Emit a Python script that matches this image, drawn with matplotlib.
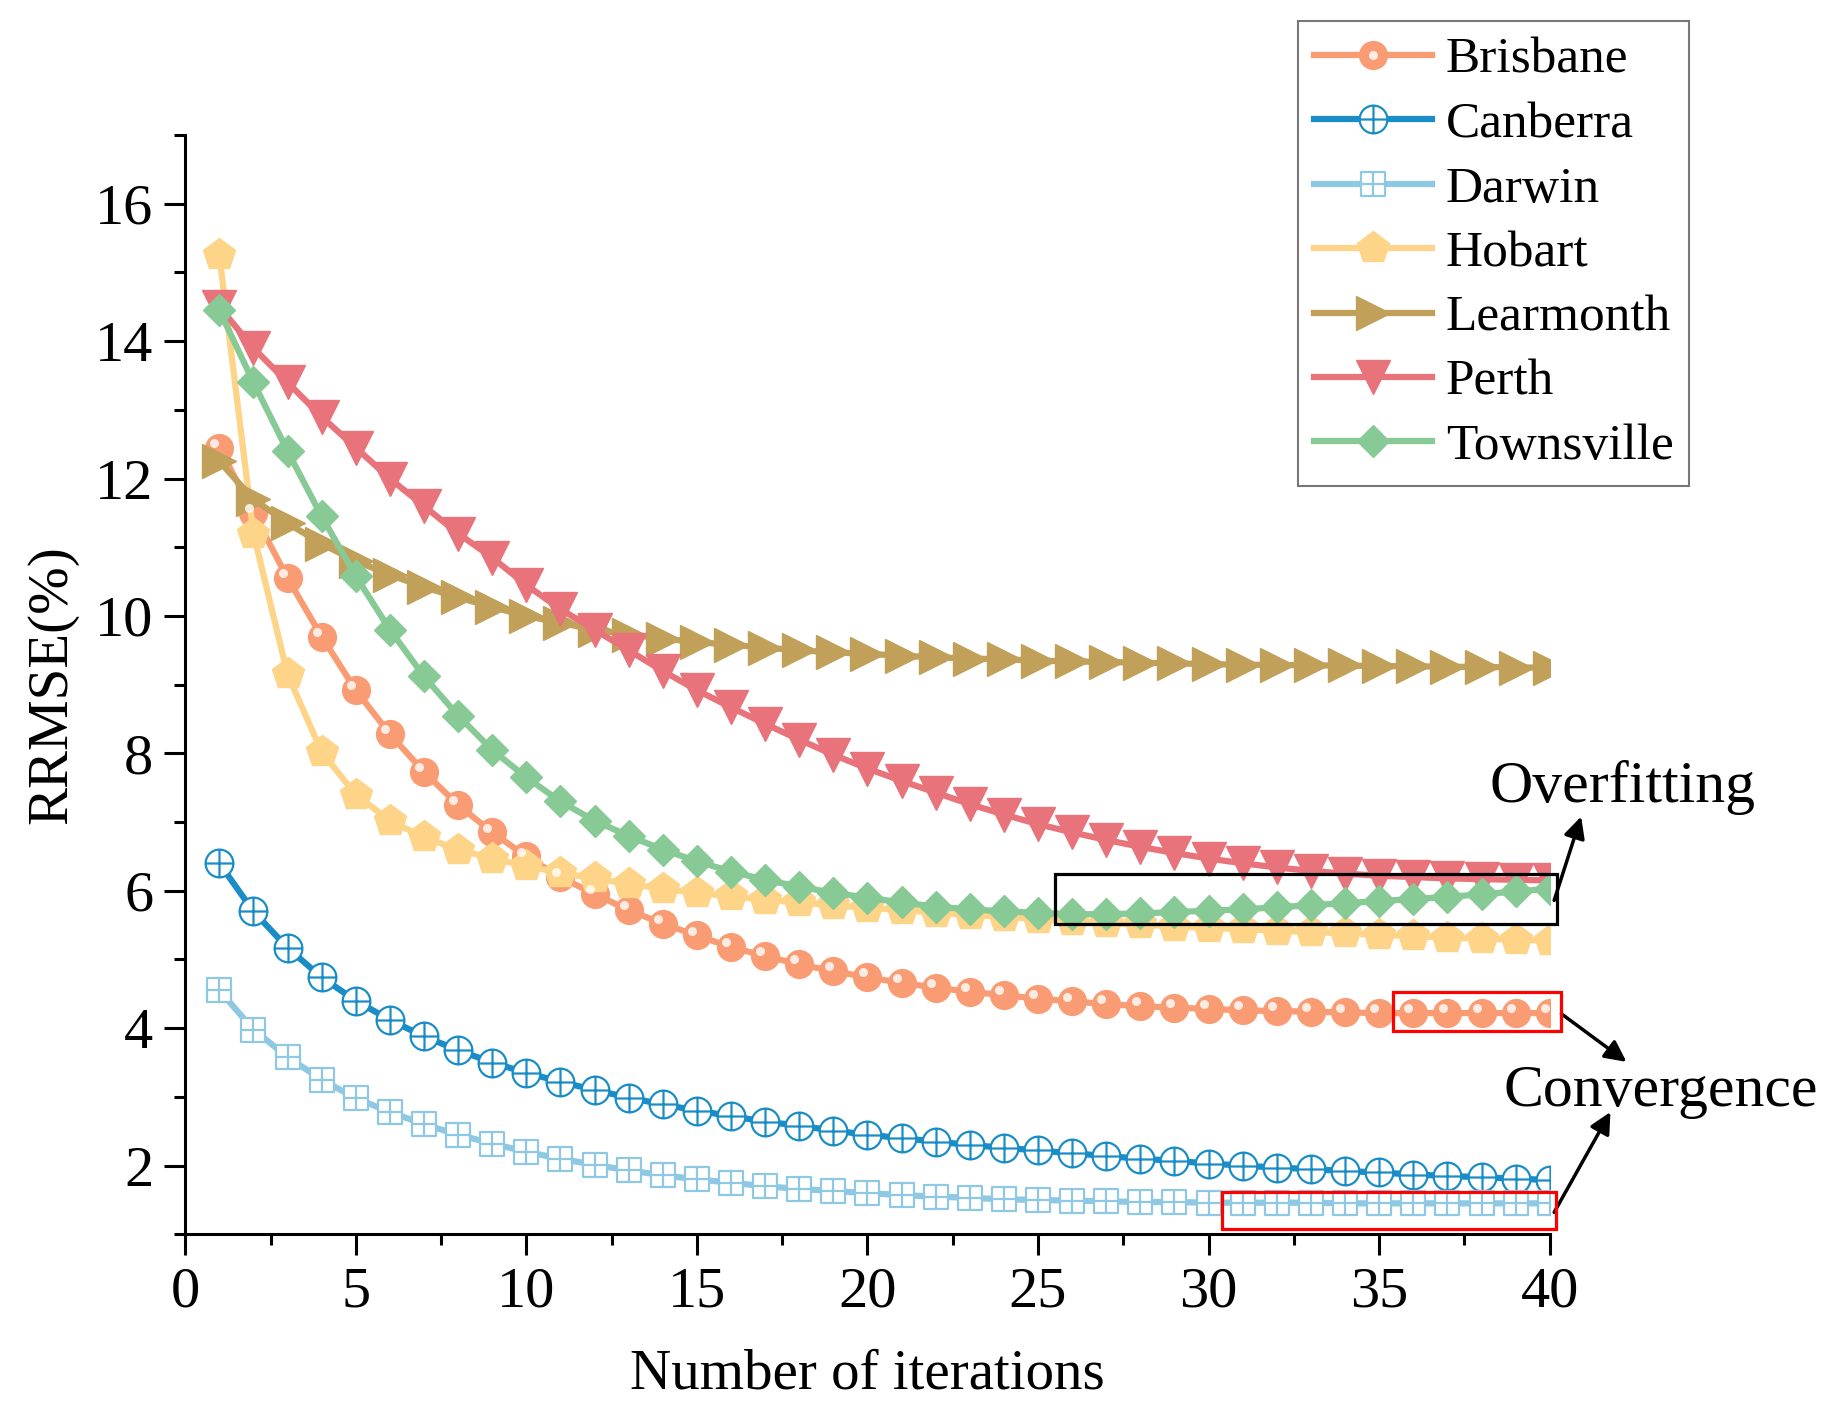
import numpy as np
import matplotlib
matplotlib.use('Agg')
import matplotlib.pyplot as plt
from matplotlib.path import Path
from matplotlib.patches import Rectangle
from matplotlib import transforms
from matplotlib.legend_handler import HandlerTuple

plt.rcParams['font.family'] = ['Liberation Serif', 'DejaVu Serif']

# iterations 1..40
iterations = np.arange(1, 41)

brisbane = [12.45, 11.5, 10.55, 9.7, 8.92, 8.28, 7.73, 7.25, 6.85, 6.5,
            6.2, 5.95, 5.72, 5.52, 5.35, 5.18, 5.05, 4.93, 4.83, 4.74,
            4.66, 4.59, 4.53, 4.48, 4.43, 4.39, 4.35, 4.32, 4.3, 4.28,
            4.26, 4.25, 4.24, 4.23, 4.22, 4.22, 4.22, 4.22, 4.22, 4.22]
canberra = [6.4, 5.7, 5.17, 4.74, 4.4, 4.12, 3.88, 3.68, 3.5, 3.35,
            3.22, 3.1, 2.99, 2.89, 2.8, 2.72, 2.64, 2.58, 2.51, 2.45,
            2.4, 2.35, 2.3, 2.26, 2.22, 2.18, 2.14, 2.1, 2.07, 2.03,
            2.0, 1.97, 1.95, 1.92, 1.9, 1.87, 1.85, 1.83, 1.81, 1.79]
darwin = [4.55, 3.98, 3.58, 3.25, 2.98, 2.78, 2.6, 2.45, 2.32, 2.2,
          2.1, 2.01, 1.93, 1.86, 1.8, 1.75, 1.7, 1.66, 1.63, 1.6,
          1.57, 1.55, 1.53, 1.51, 1.5, 1.49, 1.48, 1.47, 1.47, 1.46,
          1.46, 1.46, 1.46, 1.45, 1.45, 1.45, 1.45, 1.45, 1.45, 1.45]
hobart = [15.25, 11.2, 9.15, 8.02, 7.4, 7.02, 6.78, 6.6, 6.47, 6.36,
          6.26, 6.18, 6.1, 6.03, 5.97, 5.92, 5.87, 5.83, 5.79, 5.75,
          5.72, 5.68, 5.65, 5.62, 5.59, 5.56, 5.53, 5.51, 5.48, 5.46,
          5.44, 5.42, 5.4, 5.38, 5.36, 5.34, 5.32, 5.3, 5.29, 5.27]
learmonth = [12.25, 11.7, 11.35, 11.05, 10.8, 10.6, 10.42, 10.27, 10.13, 10.0,
             9.9, 9.8, 9.73, 9.67, 9.62, 9.58, 9.54, 9.5, 9.47, 9.45,
             9.42, 9.4, 9.38, 9.37, 9.35, 9.34, 9.33, 9.32, 9.31, 9.3,
             9.29, 9.29, 9.28, 9.28, 9.27, 9.27, 9.26, 9.26, 9.25, 9.25]
perth = [14.5, 13.9, 13.4, 12.9, 12.45, 12.0, 11.6, 11.2, 10.85, 10.45,
         10.1, 9.8, 9.5, 9.2, 8.92, 8.67, 8.43, 8.2, 7.98, 7.78,
         7.6, 7.43, 7.26, 7.11, 6.97, 6.85, 6.74, 6.64, 6.55, 6.47,
         6.4, 6.34, 6.29, 6.25, 6.22, 6.2, 6.18, 6.17, 6.16, 6.15]
townsville = [14.45, 13.4, 12.4, 11.45, 10.58, 9.8, 9.12, 8.55, 8.05, 7.65,
              7.3, 7.02, 6.8, 6.6, 6.43, 6.28, 6.16, 6.06, 5.97, 5.9,
              5.83, 5.77, 5.73, 5.7, 5.68, 5.66, 5.66, 5.67, 5.69, 5.71,
              5.73, 5.76, 5.79, 5.82, 5.85, 5.88, 5.91, 5.95, 5.99, 6.03]

names = ['Brisbane', 'Canberra', 'Darwin', 'Hobart', 'Learmonth', 'Perth', 'Townsville']
colors = {
    'Brisbane': '#F99C73',
    'Canberra': '#1B8DC6',
    'Darwin': '#8FC8E2',
    'Hobart': '#FDD488',
    'Learmonth': '#C1A15A',
    'Perth': '#E8737A',
    'Townsville': '#87CA96',
}

# circle / square with a cross inside
circle_plus = Path.make_compound_path(
    Path.unit_circle(),
    Path([(-1, 0), (1, 0)], [Path.MOVETO, Path.LINETO]),
    Path([(0, -1), (0, 1)], [Path.MOVETO, Path.LINETO]))
square_plus = Path.make_compound_path(
    Path([(-1, -1), (1, -1), (1, 1), (-1, 1), (-1, -1)],
         [Path.MOVETO, Path.LINETO, Path.LINETO, Path.LINETO, Path.CLOSEPOLY]),
    Path([(-1, 0), (1, 0)], [Path.MOVETO, Path.LINETO]),
    Path([(0, -1), (0, 1)], [Path.MOVETO, Path.LINETO]))

fig = plt.figure(figsize=(18.34, 14.22), dpi=100)
ax = fig.add_axes([0.101, 0.132, 0.744, 0.773])

lw = 4.5
handles = []

# Brisbane with small white highlight (ball look)
c = colors['Brisbane']
h1, = ax.plot(iterations, brisbane, color=c, lw=lw, marker='o', markersize=20,
              mfc=c, mec=c, zorder=3)
hl_tr = transforms.offset_copy(ax.transData, fig=fig, x=-3.5, y=3.5, units='points')
h1b, = ax.plot(iterations, brisbane, ls='none', marker='o', markersize=6.5,
               mfc='white', mec='none', alpha=0.8, transform=hl_tr, zorder=3.1)
handles.append((h1, h1b))

c = colors['Canberra']
h2, = ax.plot(iterations, canberra, color=c, lw=lw, marker=circle_plus, markersize=20,
              mfc='white', mec=c, mew=1.6, zorder=3)
handles.append(h2)

c = colors['Darwin']
h3, = ax.plot(iterations, darwin, color=c, lw=lw, marker=square_plus, markersize=17,
              mfc='white', mec=c, mew=1.6, zorder=3)
handles.append(h3)

c = colors['Hobart']
h4, = ax.plot(iterations, hobart, color=c, lw=lw, marker='p', markersize=24,
              mfc=c, mec=c, zorder=3)
handles.append(h4)

c = colors['Learmonth']
h5, = ax.plot(iterations, learmonth, color=c, lw=lw, marker='>', markersize=24,
              mfc=c, mec=c, zorder=3)
handles.append(h5)

c = colors['Perth']
h6, = ax.plot(iterations, perth, color=c, lw=lw, marker='v', markersize=24,
              mfc=c, mec=c, zorder=3)
handles.append(h6)

c = colors['Townsville']
h7, = ax.plot(iterations, townsville, color=c, lw=lw, marker='D', markersize=16.5,
              mfc=c, mec=c, zorder=3)
handles.append(h7)

ax.set_xlim(0, 40)
ax.set_ylim(1, 17)
ax.set_xticks(np.arange(0, 41, 5))
ax.set_xticks(np.arange(2.5, 40, 5), minor=True)
ax.set_yticks(np.arange(2, 17, 2))
ax.set_yticks(np.arange(1, 18, 2), minor=True)
ax.spines['top'].set_visible(False)
ax.spines['right'].set_visible(False)
for s in ['left', 'bottom']:
    ax.spines[s].set_linewidth(2.2)
ax.tick_params(which='major', direction='out', length=15, width=2.2, labelsize=42, pad=8)
ax.tick_params(which='minor', direction='out', length=8, width=2.2)

ax.set_xlabel('Number of iterations', fontsize=41, labelpad=22)
ax.set_ylabel('RRMSE(%)', fontsize=41, labelpad=12)

# highlight boxes
ax.add_patch(Rectangle((25.5, 5.52), 14.7, 0.72, fill=False, ec='black', lw=2.3,
                       clip_on=False, zorder=5))
ax.add_patch(Rectangle((35.42, 3.96), 4.92, 0.56, fill=False, ec='#FF0000', lw=2.3,
                       clip_on=False, zorder=5))
ax.add_patch(Rectangle((30.38, 1.07), 9.81, 0.55, fill=False, ec='#FF0000', lw=2.3,
                       clip_on=False, zorder=5))

arrow_kw = dict(arrowstyle='-|>', color='black', lw=2.5, mutation_scale=32,
                shrinkA=0, shrinkB=0)
ax.annotate('', xy=(40.92, 7.08), xytext=(40.13, 5.86), arrowprops=arrow_kw,
            annotation_clip=False)
ax.annotate('', xy=(42.25, 3.51), xytext=(40.34, 4.21), arrowprops=arrow_kw,
            annotation_clip=False)
ax.annotate('', xy=(41.78, 2.78), xytext=(40.13, 1.32), arrowprops=arrow_kw,
            annotation_clip=False)
ax.text(42.12, 7.51, 'Overfitting', fontsize=43, ha='center', va='center', clip_on=False)
ax.text(43.25, 3.07, 'Convergence', fontsize=43, ha='center', va='center', clip_on=False)

leg = ax.legend(handles, names, handler_map={tuple: HandlerTuple(ndivide=1, pad=0)},
                loc='upper left', bbox_to_anchor=(0.708, 0.985), bbox_transform=fig.transFigure,
                fontsize=37, frameon=True, fancybox=False, handlelength=2.3,
                handletextpad=0.27, labelspacing=0.34, borderpad=0.3, borderaxespad=0)
leg.get_frame().set_edgecolor('#555555')
leg.get_frame().set_linewidth(1.5)

fig.savefig('out.png', dpi=100)
